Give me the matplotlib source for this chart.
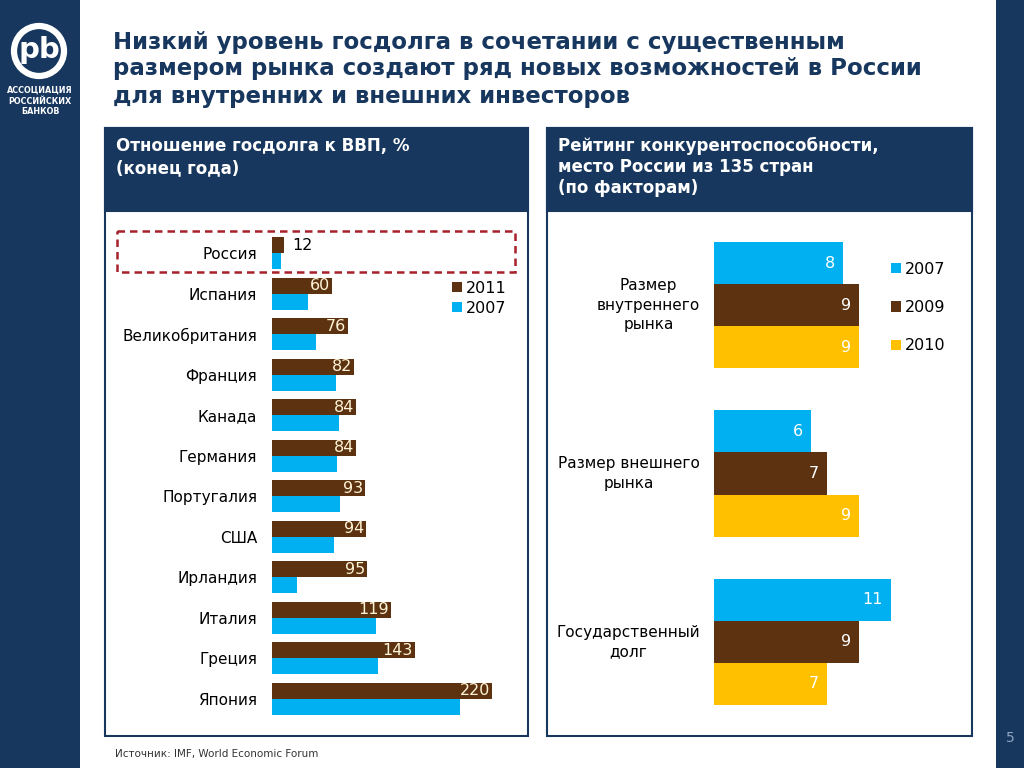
import matplotlib
matplotlib.use("Agg")
import matplotlib.pyplot as plt
from matplotlib.patches import Rectangle, Circle

# --- data ---
countries = ["Россия", "Испания", "Великобритания", "Франция", "Канада", "Германия",
             "Португалия", "США", "Ирландия", "Италия", "Греция", "Япония"]
debt_2011 = [12, 60, 76, 82, 84, 84, 93, 94, 95, 119, 143, 220]
debt_2007 = [9, 36, 44, 64, 67, 65, 68, 62, 25, 104, 106, 188]

factors = ["Размер\nвнутреннего\nрынка", "Размер внешнего\nрынка", "Государственный\nдолг"]
rank_2007 = [8, 6, 11]
rank_2009 = [9, 7, 9]
rank_2010 = [9, 9, 7]

navy = "#17375E"
brown = "#5C3211"
blue = "#00B0F0"
gold = "#FFC000"

W, H = 1024, 768
fig = plt.figure(figsize=(W / 100, H / 100), dpi=100)


def frect(x0, y0, x1, y1):
    # pixel box (top-left origin) -> figure fraction rect
    return [x0 / W, 1 - y1 / H, (x1 - x0) / W, (y1 - y0) / H]


# background / slide decoration, pixel coordinates
bg = fig.add_axes([0, 0, 1, 1])
bg.set_xlim(0, W)
bg.set_ylim(H, 0)
bg.axis("off")
bg.add_patch(Rectangle((0, 0), 80, H, fc=navy, ec="none"))
bg.add_patch(Rectangle((996, 0), 28, H, fc=navy, ec="none"))
bg.text(1010, 738, "5", color="#8FA6C0", fontsize=10, ha="center", va="center")

# logo
bg.add_patch(Circle((39, 51), 25, fc="none", ec="white", lw=4.5))
bg.text(39, 50, "pb", color="white", fontsize=21, fontweight="bold", ha="center", va="center")
for yy, t in zip([90, 101, 112], ["АССОЦИАЦИЯ", "РОССИЙСКИХ", "БАНКОВ"]):
    bg.text(40, yy, t, color="white", fontsize=5.8, fontweight="bold", ha="center", va="center")

# title
title_lines = ["Низкий уровень госдолга в сочетании с существенным",
               "размером рынка создают ряд новых возможностей в России",
               "для внутренних и внешних инвесторов"]
for yy, t in zip([42, 69, 96], title_lines):
    bg.text(113, yy, t, color=navy, fontsize=16.5, fontweight="bold", va="center")

# panels
for x0, x1 in [(105, 528), (547, 972)]:
    bg.add_patch(Rectangle((x0, 128), x1 - x0, 608, fc="white", ec=navy, lw=1.5))
    bg.add_patch(Rectangle((x0, 128), x1 - x0, 83, fc=navy, ec=navy, lw=1.5))

for yy, t in zip([146, 168], ["Отношение госдолга к ВВП, %", "(конец года)"]):
    bg.text(116, yy, t, color="white", fontsize=12, fontweight="bold", va="center")
for yy, t in zip([146, 167, 188], ["Рейтинг конкурентоспособности,",
                                   "место России из 135 стран", "(по факторам)"]):
    bg.text(558, yy, t, color="white", fontsize=12, fontweight="bold", va="center")

bg.text(115, 754, "Источник: IMF, World Economic Forum", color="#333333", fontsize=7.5, va="center")

# highlight box around Russia
bg.add_patch(Rectangle((117, 231), 398, 41, fc="none", ec="#A8202B", lw=1.8, ls=(0, (3, 2))))

# --- left chart: debt to GDP ---
ax = fig.add_axes(frect(272, 229, 510, 723))
ax.patch.set_alpha(0)
idx = list(range(len(countries)))
b11 = ax.barh([i - 0.2 for i in idx], debt_2011, height=0.4, color=brown)
b07 = ax.barh([i + 0.2 for i in idx], debt_2007, height=0.4, color=blue)
ax.set_xlim(0, 238)
ax.set_ylim(11.6, -0.6)
for i, v in enumerate(debt_2011):
    if v < 20:
        ax.text(v + 8, i - 0.2, str(v), color="black", fontsize=11.5, ha="left", va="center")
    else:
        ax.text(v - 2, i - 0.2, str(v), color="#FFF5D6", fontsize=11.5, ha="right", va="center")
ax.set_yticks(idx, countries)
ax.tick_params(axis="y", length=0, pad=10.8, labelsize=11)
ax.tick_params(axis="x", bottom=False, labelbottom=False)
for s in ax.spines.values():
    s.set_visible(False)
ax.legend([b11, b07], ["2011", "2007"], loc="upper left",
          bbox_to_anchor=(452 / W, 1 - 281 / H), bbox_transform=fig.transFigure,
          frameon=False, handlelength=0.6, handleheight=0.6, handletextpad=0.25,
          labelspacing=0.3, fontsize=11.5, borderpad=0, borderaxespad=0)

# --- right chart: competitiveness ranking ---
ax2 = fig.add_axes(frect(714, 221, 714 + 16.1 * 15, 726))
ax2.patch.set_alpha(0)
gi = list(range(len(factors)))
r07 = ax2.barh([i - 0.25 for i in gi], rank_2007, height=0.25, color=blue)
r09 = ax2.barh(gi, rank_2009, height=0.25, color=brown)
r10 = ax2.barh([i + 0.25 for i in gi], rank_2010, height=0.25, color=gold)
ax2.set_xlim(0, 15)
ax2.set_ylim(2.5, -0.5)
for off, vals in [(-0.25, rank_2007), (0, rank_2009), (0.25, rank_2010)]:
    for i, v in enumerate(vals):
        ax2.text(v - 0.5, i + off, str(v), color="white", fontsize=11.5, ha="right", va="center")
for i, f in enumerate(factors):
    ax2.text(-0.87, i, f, fontsize=11, ha="right", va="center", multialignment="center",
             linespacing=1.35)
ax2.set_xticks([])
ax2.set_yticks([])
for s in ax2.spines.values():
    s.set_visible(False)
ax2.legend([r07, r09, r10], ["2007", "2009", "2010"], loc="upper left",
           bbox_to_anchor=(891 / W, 1 - 262 / H), bbox_transform=fig.transFigure,
           frameon=False, handlelength=0.6, handleheight=0.6, handletextpad=0.25,
           labelspacing=1.45, fontsize=11.5, borderpad=0, borderaxespad=0)

fig.savefig("out.png", dpi=100)
